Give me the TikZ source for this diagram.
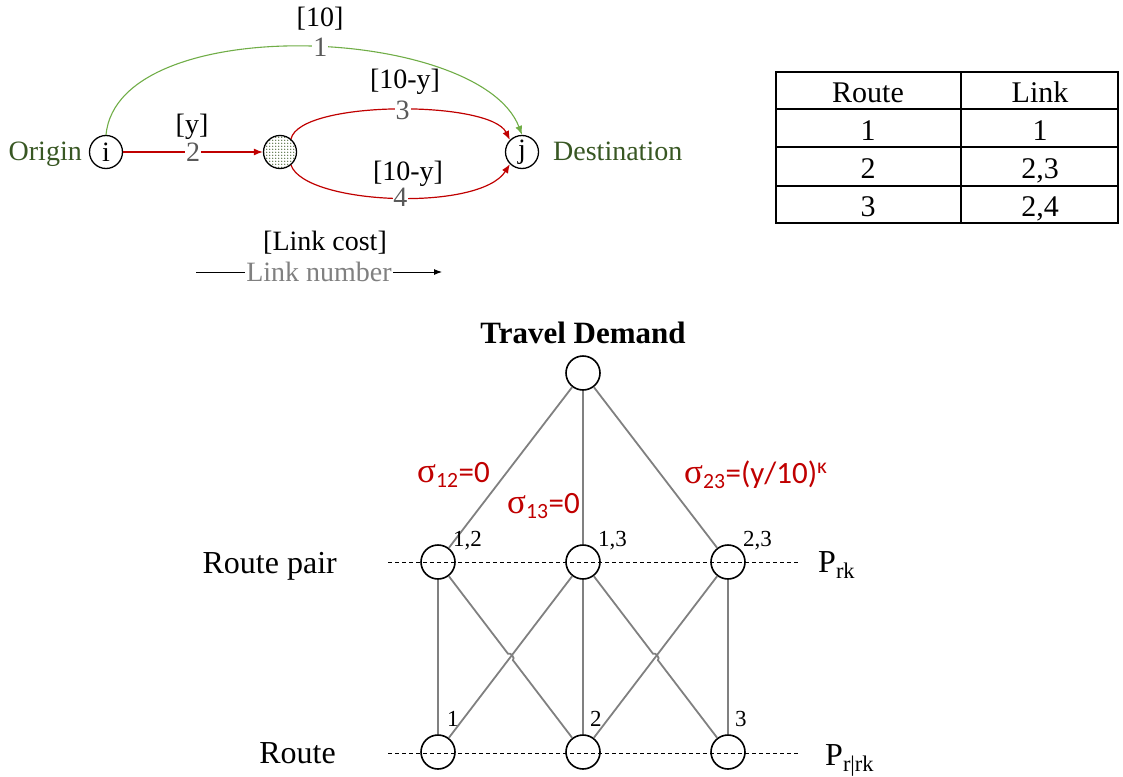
\documentclass[tikz,border=0pt]{standalone}
\usepackage{fontspec}
\setmainfont{Liberation Serif}
\newfontfamily\calibri{Carlito}
\usetikzlibrary{arrows.meta,patterns,calc,intersections}

\definecolor{odgreen}{RGB}{56,87,35}
\definecolor{linkgreen}{RGB}{112,173,71}
\definecolor{linkred}{RGB}{192,0,0}
\definecolor{numgray}{RGB}{89,89,89}
\definecolor{leggray}{RGB}{128,128,128}
\definecolor{edgegray}{RGB}{128,128,128}

% dense dot fill for the intermediate node
\pgfdeclarepatternformonly{densedots}{\pgfpoint{-1pt}{-1pt}}{\pgfpoint{2pt}{2pt}}{\pgfpoint{3pt}{3pt}}{%
  \pgfpathcircle{\pgfpointorigin}{0.8pt}\pgfusepath{fill}}

% serif sigma used in the correlation labels
\newcommand\sigmaglyph{{\rmfamily\fontsize{35}{36}\selectfont σ}}

\begin{document}
\begin{tikzpicture}[x=1pt,y=-1pt,
  txt/.style={inner sep=0pt, font=\fontsize{28}{32}\selectfont},
  bigtxt/.style={inner sep=0pt, font=\fontsize{32}{36}\selectfont},
  smalltxt/.style={inner sep=0pt, font=\fontsize{23}{26}\selectfont},
  tbltxt/.style={inner sep=0pt, font=\fontsize{30}{34}\selectfont},
  num/.style={txt, text=numgray, fill=white, inner sep=1pt},
  sig/.style={inner sep=0pt, text=linkred, font=\calibri\fontsize{31}{34}\selectfont},
  tnode/.style={circle, draw, line width=1.3pt, minimum size=33pt, inner sep=0pt,
                font=\fontsize{28}{32}\selectfont},
  bnode/.style={circle, draw, line width=1.6pt, minimum size=34pt, inner sep=0pt},
  tip/.style={-{Latex[length=9pt,width=7pt]}},
  glink/.style={draw=linkgreen, line width=1.1pt, tip},
  rlink/.style={draw=linkred, line width=1.2pt, tip},
  legline/.style={draw=black, line width=0.9pt, -{Latex[length=8pt,width=6pt]}},
  gline/.style={draw=edgegray, line width=1.8pt},
  dashline/.style={draw=black, line width=0.8pt, dash pattern=on 4pt off 3pt},
  tblline/.style={draw=black, line width=1.6pt}
]
\useasboundingbox (0,0) rectangle (1123,776);

% ---------- small network: origin i, intermediate node, destination j
\node[tnode] (i) at (106,152) {i};
\node[tnode, pattern=densedots, pattern color=odgreen] (m) at (280,152) {};
\node[tnode] (j) at (522,152) {j};
\node[txt, text=odgreen, anchor=base east] (orig) at (82,160) {Origin};
\node[txt, text=odgreen, anchor=base west] (dest) at (553,160) {Destination};

% link 1 (direct)
\draw[glink] (i.north) .. controls (118,10) and (480,25) .. (j.north)
  node[num, pos=0.53] (n1) {1};
\node[txt, anchor=base] (c1) at (320,27) {[10]};

% link 2
\draw[rlink] (i.east) -- node[num] (n2) {2} (m.west);
\node[txt, anchor=base] (c2) at (192,133) {[y]};

% link 3
\draw[rlink] (m.50) .. controls (300,100) and (490,100) .. (j.135)
  node[num, pos=0.52] (n3) {3};
\node[txt, anchor=base] (c3) at (405,88) {[10-y]};

% link 4
\draw[rlink] (m.-50) .. controls (305,205) and (480,212) .. (j.225)
  node[num, inner sep=0.5pt, pos=0.52] (n4) {4};
\node[txt, anchor=base] (c4) at (408,180) {[10-y]};

% legend
\node[txt, anchor=base] (legcost) at (325,250) {[Link cost]};
\coordinate (lgA) at (196,272);
\coordinate (lgB) at (442,272);
\draw[legline] (lgA) -- node[txt, text=leggray, fill=white, inner xsep=1pt] (legnum) {Link number} (lgB);

% ---------- route / link table
\draw[tblline] (776,72) rectangle (1118,223);
\draw[tblline] (961,72) -- (961,223);
\draw[tblline] (776,109) -- (1118,109);
\draw[tblline] (776,147) -- (1118,147);
\draw[tblline] (776,186) -- (1118,186);
\node[tbltxt, anchor=base] (h1) at (868,102) {Route};
\node[tbltxt, anchor=base] (h2) at (1040,102) {Link};
\node[tbltxt, anchor=base] (a1) at (868,140) {1};
\node[tbltxt, anchor=base] (b1) at (1040,140) {1};
\node[tbltxt, anchor=base] (a2) at (868,178) {2};
\node[tbltxt, anchor=base] (b2) at (1040,178) {2,3};
\node[tbltxt, anchor=base] (a3) at (868,216) {3};
\node[tbltxt, anchor=base] (b3) at (1040,216) {2,4};

% ---------- nested choice tree
\node[inner sep=0pt, font=\bfseries\fontsize{31}{35}\selectfont, anchor=base] (td) at (583,343) {Travel Demand};
\node[bnode] (top) at (583,373) {};

\coordinate (dL1) at (388,562);
\coordinate (dR1) at (798,562);
\coordinate (dL2) at (388,753);
\coordinate (dR2) at (798,753);
\draw[dashline] (dL1) -- (dR1);
\draw[dashline] (dL2) -- (dR2);

\node[bnode] (p12) at (438,562) {};
\node[bnode] (p13) at (583,562) {};
\node[bnode] (p23) at (728,562) {};
\node[bnode] (r1) at (438,752) {};
\node[bnode] (r2) at (583,752) {};
\node[bnode] (r3) at (728,752) {};

\draw[gline] (top) -- (p12);
\draw[gline] (top) -- (p13);
\draw[gline] (top) -- (p23);

\draw[gline] (p12) -- (r1);
\draw[gline] (p13) -- (r2);
\draw[gline] (p23) -- (r3);
\draw[gline] (p13) -- (r1);
\draw[gline] (p23) -- (r2);

% descending diagonals hop over the ascending ones
\path[name path=d1] (p12) -- (r2);
\path[name path=u1] (p13) -- (r1);
\path[name intersections={of=d1 and u1, by=x1}];
\path[name path=d2] (p13) -- (r3);
\path[name path=u2] (p23) -- (r2);
\path[name intersections={of=d2 and u2, by=x2}];
\draw[gline] (p12) -- ($(x1)!4pt!(p12)$) to[bend left=90] ($(x1)!4pt!(r2)$) -- (r2);
\draw[gline] (p13) -- ($(x2)!4pt!(p13)$) to[bend left=90] ($(x2)!4pt!(r3)$) -- (r3);

% labels
\node[smalltxt, anchor=base west] (l12) at (453,546) {1,2};
\node[smalltxt, anchor=base west] (l13) at (598,546) {1,3};
\node[smalltxt, anchor=base west] (l23) at (743,546) {2,3};
\node[smalltxt, anchor=base west] (l1) at (447,726) {1};
\node[smalltxt, anchor=base west] (l2) at (590,726) {2};
\node[smalltxt, anchor=base west] (l3) at (735,726) {3};

\node[sig, anchor=base west] (s12) at (417,482) {\sigmaglyph\textsubscript{12}=0};
\node[sig, anchor=base west] (s13) at (507,513) {\sigmaglyph\textsubscript{13}=0};
\node[sig, anchor=base west] (s23) at (684,483) {\sigmaglyph\textsubscript{23}=(y/10)\textsuperscript{κ}};

\node[bigtxt, anchor=base east] (rp) at (337,573) {Route pair};
\node[bigtxt, anchor=base east] (ro) at (336,763) {Route};
\node[bigtxt, anchor=base west] (prk) at (818,572) {P\textsubscript{rk}};
\node[bigtxt, anchor=base west] (prr) at (825,765) {P\textsubscript{r|rk}};
\end{tikzpicture}
\end{document}
